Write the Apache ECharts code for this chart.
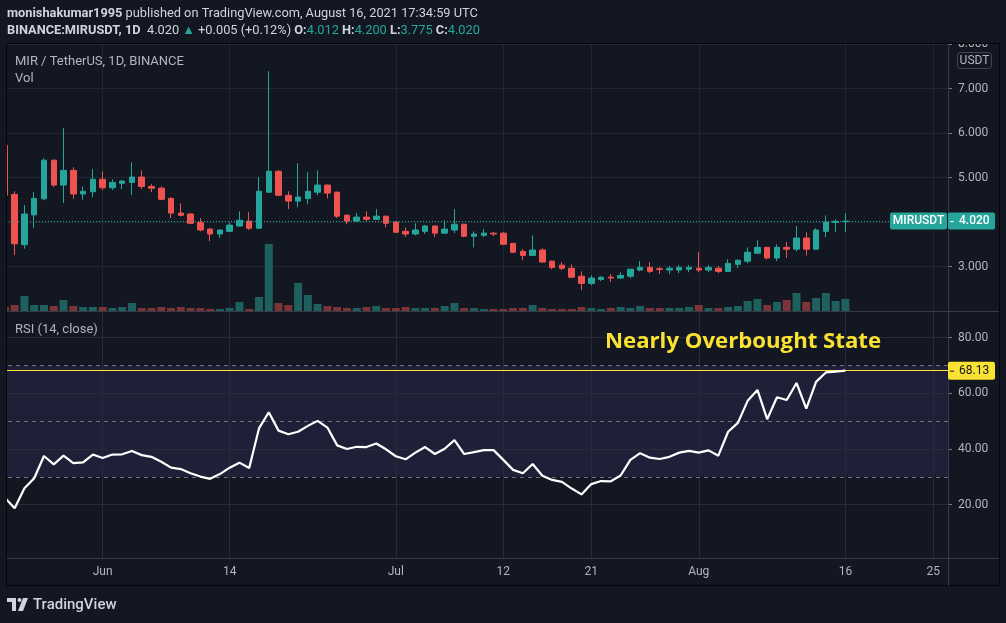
<!DOCTYPE html>
<html><head><meta charset="utf-8">
<script src="https://cdn.jsdelivr.net/npm/echarts@6/dist/echarts.min.js"></script>
<style>html,body{margin:0;padding:0;background:#131722;}#c{width:1006px;height:623px;}</style>
</head><body><div id="c"></div>
<script>
// ---------- data ----------
const startDate = '2021-05-22';
const dayCount = 97; // axis runs May 22 .. Aug 26 (candles to Aug 16)
const open = [5.72,4.62,3.49,4.16,4.52,5.39,4.83,5.16,4.63,4.68, 4.96,4.77,4.87,4.89,5.01,4.80,4.76,4.53,4.20,4.18, 3.99,3.84,3.73,3.79,3.91,4.02,3.86,4.67,5.14,4.60, 4.47,4.53,4.67,4.83,4.67,4.15,4.02,4.11,4.06,4.13, 4.00,3.79,3.73,3.79,3.91,3.75,3.82,3.95,3.68,3.70, 3.75,3.75,3.52,3.34,3.25,3.37,3.12,3.03,2.96,2.78, 2.62,2.71,2.76,2.74,2.78,2.92,2.98,2.95,2.92,2.92, 2.94,2.96,2.92,2.96,2.89,3.05,3.12,3.30,3.43,3.19, 3.43,3.39,3.64,3.39,3.79,3.99,4.012];
const close = [4.60,3.51,4.18,4.53,5.39,4.83,5.16,4.63,4.69,4.96, 4.77,4.89,4.92,5.01,4.80,4.76,4.51,4.20,4.15,3.97, 3.82,3.73,3.82,3.93,4.04,3.86,4.69,5.14,4.60,4.47, 4.56,4.69,4.83,4.65,4.13,4.02,4.11,4.06,4.13,3.97, 3.77,3.73,3.82,3.91,3.75,3.84,3.95,3.68,3.73,3.75, 3.73,3.50,3.32,3.25,3.37,3.10,2.98,2.96,2.76,2.62, 2.74,2.76,2.74,2.80,2.94,2.98,2.89,2.93,2.96,2.98, 2.98,2.92,2.98,2.89,3.07,3.14,3.32,3.43,3.19,3.43, 3.39,3.64,3.39,3.82,4.00,4.015,4.020];
const low = [4.58,3.26,3.40,3.87,4.49,4.79,4.43,4.52,4.50,4.56, 4.72,4.72,4.74,4.61,4.74,4.67,4.49,4.09,4.13,3.95, 3.79,3.57,3.64,3.78,3.90,3.82,3.85,4.66,4.58,4.29, 4.33,4.40,4.60,4.53,4.09,3.95,4.00,4.02,4.05,3.88, 3.75,3.66,3.70,3.73,3.66,3.73,3.75,3.66,3.43,3.66, 3.68,3.49,3.30,3.14,3.24,3.09,2.94,2.92,2.74,2.47, 2.58,2.67,2.65,2.72,2.74,2.89,2.85,2.83,2.83,2.85, 2.87,2.87,2.87,2.85,2.88,2.96,3.07,3.28,3.16,3.12, 3.19,3.34,3.25,3.37,3.66,3.77,3.775];
const high = [5.75,4.69,4.38,4.67,5.43,5.40,6.11,5.23,4.80,5.19, 5.14,4.96,4.94,5.34,5.16,4.85,4.80,4.56,4.42,4.20, 4.09,3.86,3.83,3.99,4.24,4.22,5.01,7.39,5.16,4.69, 5.32,5.12,5.16,4.84,4.68,4.18,4.20,4.24,4.29,4.14, 4.01,3.88,3.97,3.93,3.92,4.04,4.29,3.96,3.79,3.84, 3.77,3.77,3.53,3.39,3.70,3.41,3.13,3.10,3.05,2.89, 2.80,2.78,2.83,2.87,2.95,3.12,3.10,2.99,3.01,3.03, 3.03,3.32,3.03,3.01,3.16,3.16,3.43,3.59,3.44,3.50, 3.55,3.91,3.77,3.86,4.15,4.06,4.200];
const volume = [0.24,0.36,0.90,0.36,0.36,0.30,0.66,0.30,0.24,0.24, 0.24,0.18,0.24,0.48,0.18,0.18,0.24,0.18,0.24,0.18, 0.18,0.12,0.12,0.18,0.54,0.12,0.84,4.02,0.48,0.36, 1.68,0.96,0.42,0.30,0.24,0.18,0.18,0.24,0.30,0.18, 0.18,0.24,0.18,0.18,0.18,0.30,0.48,0.18,0.18,0.12, 0.12,0.12,0.18,0.18,0.36,0.18,0.12,0.12,0.12,0.24, 0.18,0.12,0.18,0.24,0.18,0.30,0.18,0.18,0.18,0.18, 0.24,0.36,0.18,0.18,0.24,0.30,0.60,0.72,0.36,0.54, 0.66,1.08,0.54,0.78,1.08,0.60,0.72];
const rsi = [22.5,18.7,25.9,29.5,37.5,34.5,37.6,34.9,35.2,38.0, 36.8,38.0,38.1,39.3,37.8,37.2,35.4,33.3,32.8,31.3, 30.1,29.3,31.0,33.3,35.1,33.2,47.4,53.2,46.6,45.3, 46.2,48.3,50.1,47.7,41.3,40.0,40.8,40.7,42.0,39.9, 37.4,36.3,38.7,40.7,38.2,40.1,43.2,38.2,38.9,39.6, 39.6,36.1,32.5,31.3,34.6,30.4,28.9,28.2,25.8,23.7, 27.4,28.5,28.4,30.5,36.1,38.5,36.9,36.4,37.2,38.7, 39.3,38.7,39.5,37.6,46.2,49.4,57.3,61.2,50.7,58.6, 57.6,63.7,54.5,64.1,67.5,67.8,68.13];
const timeTicks = {'2021-06-01':'Jun','2021-06-14':'14','2021-07-01':'Jul','2021-07-12':'12','2021-07-21':'21','2021-08-01':'Aug','2021-08-16':'16','2021-08-25':'25'};
const priceTicks = [3,5,6,7,8];
const rsiTicks = [20,40,60,80];
const rsiBands = [30,50,70];
const rsiUpperBand = 70, rsiLowerBand = 30;
const overboughtLevel = 68.13;
const symbolTitle = 'MIR / TetherUS, 1D, BINANCE';

// ---------- derived ----------
const dates = [];
{ const d0 = new Date(startDate + 'T00:00:00Z');
  for (let i = 0; i < dayCount; i++) { const d = new Date(d0.getTime() + i*86400000); dates.push(d.toISOString().slice(0,10)); } }
const ohlc = open.map((o,i)=>[o, close[i], low[i], high[i]]);
const UP='#26a69a', DOWN='#ef5350', BG='#131722', GRID='#232733', TXT='#b2b5be', YEL='#f9e231';
const volData = volume.map((v,i)=>({value:v, itemStyle:{color: close[i]>=open[i] ? '#1d605e' : '#7b3438'}}));
const vLines = Object.keys(timeTicks).map(d=>({xAxis:d}));
const nulls = dates.map(()=>null);
const last = ohlc.length-1;

const chart = echarts.init(document.getElementById('c'), null, {renderer:'canvas', width:1006, height:623});
const option = {
  backgroundColor: BG,
  animation: false,
  grid: [
    {left:0, right:58, top:44, height:267},
    {left:0, right:58, top:312, height:246}
  ],
  xAxis: [
    {type:'category', gridIndex:0, data:dates, boundaryGap:true, axisLine:{show:false}, axisTick:{show:false}, axisLabel:{show:false}, splitLine:{show:false}},
    {type:'category', gridIndex:1, data:dates, boundaryGap:true, axisLine:{show:false}, axisTick:{show:false},
     axisLabel:{show:true, interval:(i,v)=>v in timeTicks, formatter:v=>timeTicks[v]||'', color:TXT, fontSize:12, fontFamily:'Roboto', margin:8},
     splitLine:{show:false}}
  ],
  yAxis: [
    {type:'value', gridIndex:0, position:'right', min:2, max:8, interval:1,
     axisLine:{show:false}, axisTick:{show:true, length:4, lineStyle:{color:'#787b86'}},
     axisLabel:{color:TXT, fontSize:12, fontFamily:'Roboto', margin:10, formatter:v=>priceTicks.includes(v)?v.toFixed(3):''},
     splitLine:{show:true, lineStyle:{color:GRID, width:1}}},
    {type:'value', gridIndex:0, min:0, max:16, show:false, splitLine:{show:false}},
    {type:'value', gridIndex:1, position:'right', min:0.86, max:89.2,
     axisLine:{show:false}, axisTick:{show:true, length:4, customValues:rsiTicks, lineStyle:{color:'#787b86'}},
     axisLabel:{color:TXT, fontSize:12, fontFamily:'Roboto', margin:10, customValues:rsiTicks, formatter:v=>v.toFixed(2)},
     splitLine:{show:false}}
  ],
  series: [
    {type:'line', xAxisIndex:0, yAxisIndex:0, data:nulls, symbol:'none', silent:true,
     markLine:{silent:true, symbol:'none', z:1, label:{show:false}, lineStyle:{color:GRID, width:1, type:'solid'}, data:vLines}},
    {type:'bar', xAxisIndex:0, yAxisIndex:1, data:volData, barWidth:8, z:2, silent:true},
    {type:'candlestick', xAxisIndex:0, yAxisIndex:0, data:ohlc, barWidth:6, z:3,
     itemStyle:{color:UP, color0:DOWN, borderColor:UP, borderColor0:DOWN, borderWidth:1},
     markLine:{silent:true, symbol:'none', z:4, label:{show:false}, lineStyle:{color:UP, width:1, type:[1,2]}, data:[{yAxis:close[last]}]}},
    {type:'line', xAxisIndex:1, yAxisIndex:2, data:nulls, symbol:'none', silent:true,
     markArea:{silent:true, z:0, itemStyle:{color:'#201f38'}, data:[[{yAxis:rsiLowerBand},{yAxis:rsiUpperBand}]]},
     markLine:{silent:true, symbol:'none', z:1, label:{show:false}, lineStyle:{color:'#282a3b', width:1, type:'solid'},
       data: vLines.concat(rsiTicks.map(v=>({yAxis:v})))}},
    {type:'line', xAxisIndex:1, yAxisIndex:2, data:nulls, symbol:'none', silent:true,
     markLine:{silent:true, symbol:'none', z:2, label:{show:false}, lineStyle:{color:'#6f727d', width:1, type:[4,4]},
       data: rsiBands.map(v=>({yAxis:v}))}},
    {type:'line', xAxisIndex:1, yAxisIndex:2, data:nulls, symbol:'none', silent:true,
     markLine:{silent:true, symbol:'none', z:3, label:{show:false}, lineStyle:{color:YEL, width:1, type:'solid'},
       data: [{yAxis:overboughtLevel}]}},
    {type:'line', xAxisIndex:1, yAxisIndex:2, data:rsi, symbol:'none', z:5, smooth:false,
     lineStyle:{color:'#ffffff', width:2.2}}
  ]
};
chart.setOption(option);

const yPrice = chart.convertToPixel({yAxisIndex:0}, close[last]);
const yRsi = chart.convertToPixel({yAxisIndex:2}, overboughtLevel);
const f = (s,w)=>(w||'normal')+' '+s+'px Roboto';
const line = (x1,y1,x2,y2,c,z)=>({type:'line', shape:{x1,y1,x2,y2}, style:{stroke:c, lineWidth:1}, z:z||60, silent:true});
const rect = (x,y,w,h,fill,z,r)=>({type:'rect', shape:{x,y,width:w,height:h,r:r||0}, style:{fill}, z:z||55, silent:true});
const text = (x,y,t,font,fill,align,extra)=>({type:'text', x, y, z:70, silent:true, style:Object.assign({text:t, font, fill, align:align||'left', verticalAlign:'middle'}, extra||{})});
const fmt = v=>v.toFixed(3);
const chg = close[last]-close[last-1];
const hdr2 = '{b|BINANCE:MIRUSDT, 1D}  ' + fmt(close[last]) + ' {g|▲} +' + fmt(chg) + ' (+' + (chg/close[last-1]*100).toFixed(2) + '%) '
  + '{b|O:}{g|' + fmt(open[last]) + '} {b|H:}{g|' + fmt(high[last]) + '} {b|L:}{g|' + fmt(low[last]) + '} {b|C:}{g|' + fmt(close[last]) + '}';
const HS = 12.8;
const richH = {b:{fontWeight:'bold', fontSize:HS, fontFamily:'Roboto', fill:'#d1d4dc'}, g:{fontSize:HS, fontFamily:'Roboto', fill:UP}};

chart.setOption({graphic:[
  rect(0,0,1006,43,BG,50), rect(0,43,6,545,BG,50), rect(1000,43,6,545,BG,50),
  line(6,43.5,1000,43.5,'#050608'), line(6.5,43,6.5,586,'#050608'), line(999.5,43,999.5,586,'#050608'), line(6,585.5,1000,585.5,'#050608'),
  line(948.5,44,948.5,586,'#363a45'), line(7,311.5,999,311.5,'#363a45'), line(7,558.5,999,558.5,'#363a45'),
  text(7,14,'{b|monishakumar1995} published on TradingView.com, August 16, 2021 17:34:59 UTC', f(HS), '#d1d4dc','left',{rich:richH}),
  text(7,31,hdr2, f(HS), '#d1d4dc','left',{rich:richH}),
  text(15,61.5,symbolTitle, f(13), TXT),
  text(15,78.5,'Vol', f(13), TXT),
  text(15,329.5,'RSI (14, close)', f(13), TXT),
  {type:'rect', shape:{x:957.5,y:52.5,width:34,height:16,r:3}, style:{fill:BG, stroke:'#434651', lineWidth:1}, z:60, silent:true},
  text(974.5,61,'USDT', f(12), TXT,'center'),
  rect(890,yPrice-8.5,57,17,UP,65,2), text(918.5,yPrice,'MIRUSDT', f(12,'500'), '#ffffff','center'),
  rect(948,yPrice-8.5,47,17,UP,65,2), line(950,yPrice+0.5,954,yPrice+0.5,'#ffffff',66), text(959,yPrice,fmt(close[last]), f(12,'500'), '#ffffff'),
  rect(948,yRsi-9,47,18,YEL,65,2), line(950,yRsi+0.5,954,yRsi+0.5,BG,66), text(959,yRsi,overboughtLevel.toFixed(2), f(12), BG),
  text(605,341.5,'Nearly Overbought State', 'bold 22.2px "Open Sans"', YEL),
  {type:'polygon', shape:{points:[[7,598],[16,598],[16,611],[12,611],[12,602],[7,602]]}, style:{fill:'#d1d4dc'}, z:70, silent:true},
  {type:'circle', shape:{cx:19.5,cy:600,r:2}, style:{fill:'#d1d4dc'}, z:70, silent:true},
  {type:'polygon', shape:{points:[[23,598],[28,598],[23,611],[18,611]]}, style:{fill:'#d1d4dc'}, z:70, silent:true},
  text(33,605,'TradingView', f(15,'500'), '#d1d4dc')
]});
</script>
</body></html>
